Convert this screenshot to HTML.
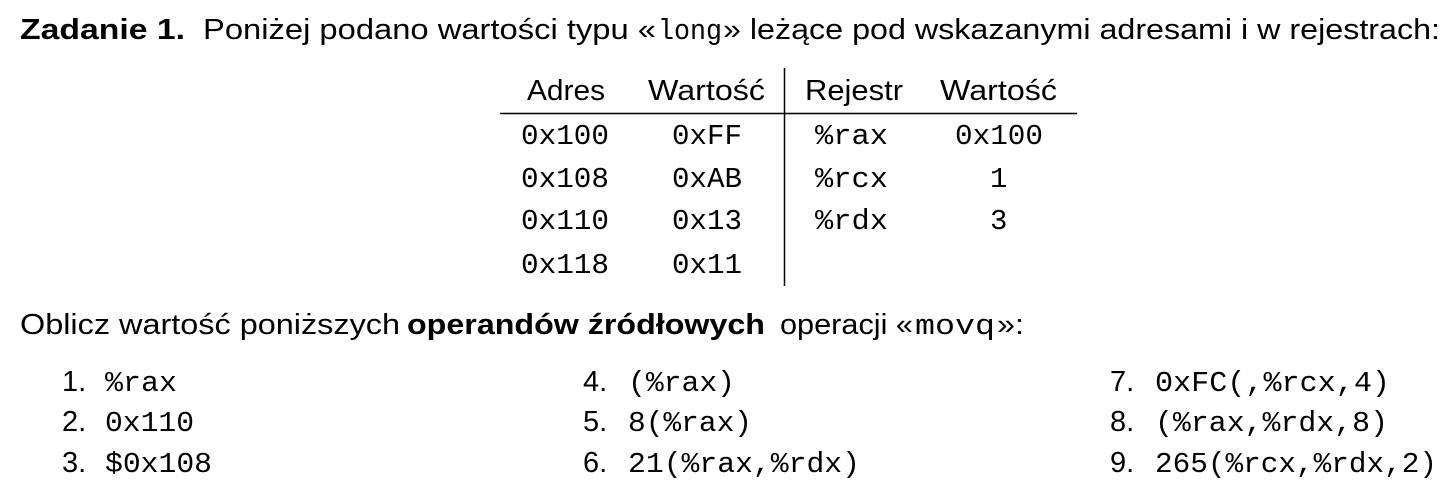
<!DOCTYPE html>
<html><head><meta charset="utf-8"><style>
html,body{margin:0;padding:0;background:#fff;width:1455px;height:492px;overflow:hidden}
svg text{fill:#000}
.s{font-family:"Liberation Sans",sans-serif;font-size:29px}
.b{font-family:"Liberation Sans",sans-serif;font-size:29px;font-weight:bold}
.m{font-family:"Liberation Mono",monospace;font-size:29px}
</style></head><body>
<svg width="1455" height="492" xmlns="http://www.w3.org/2000/svg">
<g>
<text class="b" x="20" y="39" textLength="165" lengthAdjust="spacingAndGlyphs">Zadanie 1.</text>
<text class="s" x="203" y="39" textLength="453" lengthAdjust="spacingAndGlyphs">Poniżej podano wartości typu «</text>
<text class="m" x="658" y="39" textLength="64" lengthAdjust="spacingAndGlyphs">long</text>
<text class="s" x="723" y="39" textLength="717" lengthAdjust="spacingAndGlyphs">» leżące pod wskazanymi adresami i w rejestrach:</text>

<text class="s" x="527" y="100" textLength="78" lengthAdjust="spacingAndGlyphs">Adres</text>
<text class="s" x="648" y="100" textLength="117" lengthAdjust="spacingAndGlyphs">Wartość</text>
<text class="s" x="805" y="100" textLength="98" lengthAdjust="spacingAndGlyphs">Rejestr</text>
<text class="s" x="940" y="100" textLength="117" lengthAdjust="spacingAndGlyphs">Wartość</text>
<line x1="500" y1="113.5" x2="1077" y2="113.5" stroke="#000" stroke-width="1.5"/>
<line x1="784.5" y1="68" x2="784.5" y2="286" stroke="#000" stroke-width="1.5"/>

<text class="m" x="521" y="144" textLength="88" lengthAdjust="spacingAndGlyphs">0x100</text>
<text class="m" x="672" y="144" textLength="70" lengthAdjust="spacingAndGlyphs">0xFF</text>
<text class="m" x="815" y="144" textLength="73" lengthAdjust="spacingAndGlyphs">%rax</text>
<text class="m" x="955" y="144" textLength="88" lengthAdjust="spacingAndGlyphs">0x100</text>

<text class="m" x="521" y="187" textLength="88" lengthAdjust="spacingAndGlyphs">0x108</text>
<text class="m" x="672" y="187" textLength="70" lengthAdjust="spacingAndGlyphs">0xAB</text>
<text class="m" x="815" y="187" textLength="73" lengthAdjust="spacingAndGlyphs">%rcx</text>
<text class="m" x="990" y="187">1</text>

<text class="m" x="521" y="229" textLength="88" lengthAdjust="spacingAndGlyphs">0x110</text>
<text class="m" x="672" y="229" textLength="70" lengthAdjust="spacingAndGlyphs">0x13</text>
<text class="m" x="815" y="229" textLength="73" lengthAdjust="spacingAndGlyphs">%rdx</text>
<text class="m" x="990" y="229">3</text>

<text class="m" x="521" y="273" textLength="88" lengthAdjust="spacingAndGlyphs">0x118</text>
<text class="m" x="672" y="273" textLength="70" lengthAdjust="spacingAndGlyphs">0x11</text>

<text class="s" x="20" y="334" textLength="380" lengthAdjust="spacingAndGlyphs">Oblicz wartość poniższych</text>
<text class="b" x="407" y="334" textLength="358" lengthAdjust="spacingAndGlyphs">operandów źródłowych</text>
<text class="s" x="780" y="334" textLength="133" lengthAdjust="spacingAndGlyphs">operacji «</text>
<text class="m" x="915" y="334" textLength="80" lengthAdjust="spacingAndGlyphs">movq</text>
<text class="s" x="997" y="334" textLength="27" lengthAdjust="spacingAndGlyphs">»:</text>

<text class="s" x="62" y="391">1.</text>
<text class="s" x="62" y="431">2.</text>
<text class="s" x="62" y="472">3.</text>
<text class="m" x="105" y="391" textLength="72" lengthAdjust="spacingAndGlyphs">%rax</text>
<text class="m" x="105" y="431" textLength="89" lengthAdjust="spacingAndGlyphs">0x110</text>
<text class="m" x="105" y="472" textLength="107" lengthAdjust="spacingAndGlyphs">$0x108</text>

<text class="s" x="583" y="391">4.</text>
<text class="s" x="583" y="431">5.</text>
<text class="s" x="583" y="472">6.</text>
<text class="m" x="628" y="391" textLength="107" lengthAdjust="spacingAndGlyphs">(%rax)</text>
<text class="m" x="628" y="431" textLength="124" lengthAdjust="spacingAndGlyphs">8(%rax)</text>
<text class="m" x="628" y="472" textLength="232" lengthAdjust="spacingAndGlyphs">21(%rax,%rdx)</text>

<text class="s" x="1110" y="391">7.</text>
<text class="s" x="1110" y="431">8.</text>
<text class="s" x="1110" y="472">9.</text>
<text class="m" x="1155" y="391" textLength="235" lengthAdjust="spacingAndGlyphs">0xFC(,%rcx,4)</text>
<text class="m" x="1155" y="431" textLength="233" lengthAdjust="spacingAndGlyphs">(%rax,%rdx,8)</text>
<text class="m" x="1155" y="472" textLength="282" lengthAdjust="spacingAndGlyphs">265(%rcx,%rdx,2)</text>
</g>
</svg>
</body></html>
